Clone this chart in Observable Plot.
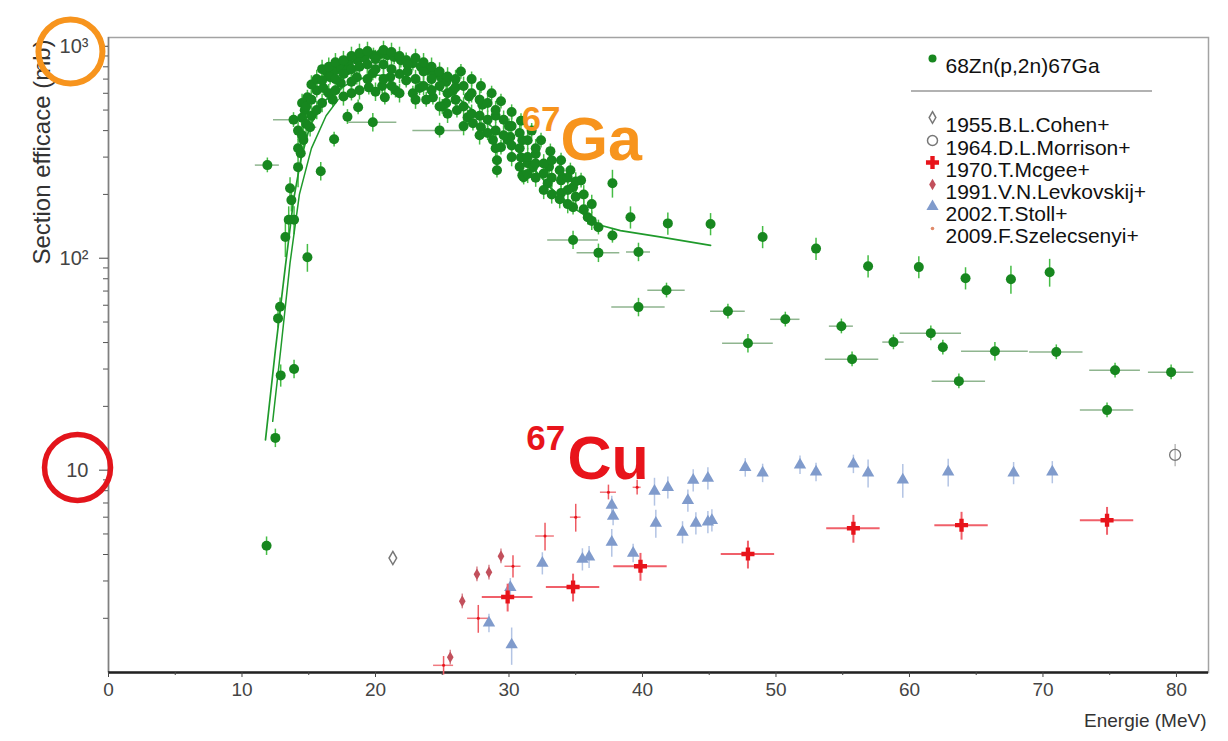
<!DOCTYPE html>
<html><head><meta charset="utf-8">
<script src="https://cdn.jsdelivr.net/npm/d3@7"></script>
<script src="https://cdn.jsdelivr.net/npm/@observablehq/plot@0.6"></script>
<style>
html,body{margin:0;padding:0;background:#fff;}
#chart svg{display:block;}
</style></head><body><div id="chart"></div>
<script>
// ---- axes ----
const xDomain = [0, 82.4];
const yDomain = [1.11, 1100];
const xTicks = [0, 10, 20, 30, 40, 50, 60, 70, 80];
const xMinor = [5, 15, 25, 35, 45, 55, 65, 75];
const yMajor = [10, 100, 1000];
const yMajorLabels = ["10", "10²", "10³"];
const yMinor = [2,3,4,5,6,7,8,9,20,30,40,50,60,70,80,90,200,300,400,500,600,700,800,900];

// ---- 68Zn(p,2n)67Ga : [E (MeV), sigma (mb), dE, relative dSigma] ----
const ga67 = [
  [11.84,4.4,0,0.1],[12.5,14.2,0,0.1],[12.9,28,0,0.12],[13.9,30,0,0.1],[12.7,52,0,0.1],[12.85,59,0,0.1],
  [14.9,101,0,0.15],[13.25,126,0,0.2],[13.5,152,0,0.15],[13.9,152,0,0.15],[13.7,188,0,0.12],[13.6,214,0,0.12],
  [11.9,275,0.9,0.08],[15.9,257,0,0.1],[13.86,450,1.5,0.08],[14.2,269,0,0.2],[14.4,313,0,0.15],[14.6,361,0,0.15],
  [15.1,415,0.5,0.1],[14.7,499,0,0.1],[16.9,364,0,0.08],[17.9,465,0,0.08],[18.7,516,0,0.08],[19.8,438,1.8,0.1],
  [20.7,574,0,0.08],[24.8,401,2,0.08],
  [15.6,619,0.3,0.08],[16.4,747,0.3,0.08],[17.0,770,0.3,0.08],[17.4,795,0.3,0.08],[18.0,830,0.3,0.08],
  [18.65,859,0.3,0.08],[19.2,880,0.3,0.08],[19.85,907,0.3,0.08],[20.4,920,0.3,0.08],[20.9,907,0.3,0.08],
  [21.4,890,0.3,0.08],[21.9,859,0.3,0.08],[22.3,860,0.3,0.08],[22.8,832,0.3,0.08],[23.4,800,0.3,0.08],
  [23.9,771,0.3,0.08],[24.4,740,0.3,0.08],[24.9,714,0.3,0.08],[25.3,680,0.3,0.08],[25.8,619,0.3,0.08],
  [14.9,574,0.3,0.08],[16.1,636,0.3,0.08],[16.6,714,0.3,0.08],[17.4,671,0.3,0.08],[17.9,771,0.3,0.08],
  [18.6,714,0.3,0.08],[19.8,747,0.3,0.08],[21.1,714,0.3,0.08],[22.3,690,0.3,0.08],[23.3,636,0.3,0.08],
  [24.3,574,0.3,0.08],[25.3,540,0.3,0.08],
  [16.8,560,0.3,0.08],[18.2,600,0.3,0.08],[19.5,640,0.3,0.08],[20.5,650,0.3,0.08],[21.5,620,0.3,0.08],
  [22.8,600,0.3,0.08],[23.8,560,0.3,0.08],[25.0,520,0.3,0.08],
  [26.4,760,0.3,0.08],[27.2,700,0.3,0.08],[27.9,650,0.3,0.08],[28.7,600,0.3,0.08],[29.4,550,0.3,0.08],
  [30.2,490,0.3,0.08],[30.9,445,0.3,0.08],[31.7,400,0.3,0.08],[32.4,360,0.3,0.08],[33.1,320,0.3,0.08],
  [33.9,290,0.3,0.08],[34.6,260,0.3,0.08],[35.4,233,0.3,0.08],
  [26.0,640,0.3,0.08],[27.0,580,0.3,0.08],[28.0,530,0.3,0.08],[29.0,470,0.3,0.08],[30.0,420,0.3,0.08],
  [31.0,360,0.3,0.08],[32.0,310,0.3,0.08],[33.0,270,0.3,0.08],[34.0,240,0.3,0.08],
  [26.1,499,0.3,0.08],[26.9,462,0.3,0.08],[27.3,433,0.3,0.08],[27.9,415,0.3,0.08],[28.4,390,0.3,0.08],
  [28.8,361,0.3,0.08],[29.4,334,0.3,0.08],[29.9,361,0.3,0.08],[30.1,373,0.3,0.08],[30.9,299,0.3,0.08],
  [31.4,281,0.3,0.08],[31.8,269,0.3,0.08],[32.6,251,0.3,0.08],[32.9,226,0.3,0.08],[33.9,233,0.3,0.08],
  [33.9,203,0.3,0.08],[34.8,216,0.3,0.08],[34.8,174,0.3,0.08],[35.9,156,0.3,0.08],[36.7,140,0.3,0.08],
  [37.75,128,0.3,0.08],[29.1,260,0.3,0.08],[31.1,241,0.3,0.08],[29.1,290,0.3,0.08],[31.0,246,0.3,0.08],
  [36.7,106,1.6,0.1],[34.8,122,1.9,0.1],[37.75,226,0,0.15],[39.1,156,0,0.12],[39.7,107,0.9,0.1],
  [41.9,146,0,0.12],[45.1,145,0,0.12],[49.0,126,0,0.12],[53.0,111,0,0.12],[41.8,70.6,1.4,0.08],
  [39.7,58.8,2.0,0.1],[46.4,56.2,1.3,0.08],[50.7,51.5,1.1,0.08],[47.9,39.7,1.9,0.1],[54.9,47.8,0.9,0.08],
  [55.7,33.4,2.0,0.08],[58.8,40.2,0.8,0.08],[61.6,44.3,2.3,0.08],[62.5,38.0,0,0.08],[63.7,26.3,2.0,0.08],
  [66.4,36.4,2.5,0.1],[71.0,36.1,2.0,0.08],[75.4,29.6,1.9,0.08],[79.6,29.0,1.7,0.08],[74.8,19.2,2.0,0.08],
  [56.9,91.6,0,0.12],[60.7,90.8,0,0.12],[64.2,80.5,0,0.12],[67.6,79.6,0,0.15],[70.5,85.9,0,0.15]
];
// dense core of the 67Ga excitation function (E, sigma, dE, relative dSigma)
const ga67core = [
  [14.2,330,0,0.1],[14.2,400,0,0.1],[14.5,380,0,0.1],[14.5,460,0,0.1],[14.5,540,0,0.1],[14.8,430,0,0.1],[14.8,520,0,0.1],
  [15.2,470,0,0.1],[15.2,560,0,0.1],[15.2,660,0,0.1],[15.6,500,0,0.1],[15.6,700,0,0.1],[16.0,540,0,0.1],[16.0,690,0,0.1],
  [16.0,780,0,0.1],[16.5,600,0,0.1],[16.5,800,0,0.1],[17.0,620,0,0.1],[17.0,700,0,0.1],[17.0,840,0,0.1],[17.6,580,0,0.1],
  [17.6,740,0,0.1],[17.6,860,0,0.1],[18.2,680,0,0.1],[18.2,780,0,0.1],[18.2,900,0,0.1],[18.8,620,0,0.1],[18.8,800,0,0.1],
  [18.8,930,0,0.1],[19.4,700,0,0.1],[19.4,820,0,0.1],[19.4,950,0,0.1],[20.0,610,0,0.1],[20.0,780,0,0.1],[20.0,870,0,0.1],
  [20.6,700,0,0.1],[20.6,820,0,0.1],[20.6,960,0,0.1],[21.2,650,0,0.1],[21.2,780,0,0.1],[21.2,940,0,0.1],[21.8,600,0,0.1],
  [21.8,740,0,0.1],[21.8,900,0,0.1],[22.4,760,0,0.1],[22.4,820,0,0.1],[23.0,560,0,0.1],[23.0,700,0,0.1],[23.0,880,0,0.1],
  [23.6,650,0,0.1],[23.6,760,0,0.1],[23.6,840,0,0.1],[24.2,620,0,0.1],[24.2,700,0,0.1],[24.2,800,0,0.1],[24.8,520,0,0.1],
  [24.8,650,0,0.1],[24.8,760,0,0.1],[25.4,480,0,0.1],[25.4,600,0,0.1],[25.4,720,0,0.1],[26.0,560,0,0.1],[26.0,700,0,0.1],
  [26.6,420,0,0.1],[26.6,520,0,0.1],[26.6,650,0,0.1],[27.2,480,0,0.1],[27.2,600,0,0.1],[27.8,380,0,0.1],[27.8,470,0,0.1],
  [27.8,560,0,0.1],[28.4,450,0,0.1],[28.4,540,0,0.1],[29.0,330,0,0.1],[29.0,400,0,0.1],[29.0,500,0,0.1],[29.6,380,0,0.1],
  [29.6,450,0,0.1],[30.2,300,0,0.1],[30.2,340,0,0.1],[30.2,420,0,0.1],[30.8,270,0,0.1],[30.8,330,0,0.1],[30.8,390,0,0.1],
  [31.4,250,0,0.1],[31.4,300,0,0.1],[31.4,360,0,0.1],[32.0,240,0,0.1],[32.0,280,0,0.1],[32.0,330,0,0.1],[32.6,210,0,0.1],
  [32.6,280,0,0.1],[33.2,200,0,0.1],[33.2,240,0,0.1],[33.2,290,0,0.1],[33.8,190,0,0.1],[33.8,260,0,0.1],[34.4,180,0,0.1],
  [34.4,210,0,0.1],[34.4,240,0,0.1],[35.0,195,0,0.1],[35.0,230,0,0.1],[35.6,170,0,0.1],[35.6,200,0,0.1],[36.2,150,0,0.1],
  [36.2,180,0,0.1]
];
// evaluated curves (E, sigma)
const fitMain = [[11.76,13.9],[12.5,36.8],[13.26,92.7],[13.86,188],[14.4,290],[15.1,424],[16.25,556],
  [17.75,655],[19.6,730],[21.9,730],[24.1,655],[26.4,556],[28.6,424],[30.9,310],[33.1,215],[35.0,170],
  [36.85,143],[38.35,135],[41.3,126],[45.1,115]];
const fitRise = [[12.3,17],[12.9,37],[13.6,95],[14.3,200],[15.2,330],[16.3,470],[17.2,560]];

// ---- 67Cu data sets : [E, sigma, dE, relative dSigma] ----
const mcgee = [[29.9,2.52,1.9,0.15],[34.8,2.81,2.0,0.15],[39.85,3.52,2.0,0.15],[47.9,4.02,2.0,0.15],
  [55.8,5.32,2.0,0.15],[63.9,5.5,2.0,0.15],[74.8,5.8,2.0,0.15]];
const szelecsenyi = [[25.1,1.2,0.75,0.1],[27.7,2.0,0.8,0.15],[30.3,3.52,0.6,0.12],[32.7,4.89,0.7,0.15],
  [35.0,6.0,0.4,0.15],[37.45,7.87,0.6,0.08],[39.6,8.3,0.3,0.08]];
const levkovskij = [[25.6,1.31,0,0.08],[26.5,2.41,0,0.08],[27.6,3.23,0,0.08],[28.5,3.3,0,0.08],[29.4,3.93,0,0.08]];
const stoll = [[28.5,1.90,0,0.1],[30.2,1.50,0,0.2],[30.1,2.8,0,0.1],[32.5,3.64,0,0.12],[35.5,3.8,0,0.12],
  [36.0,3.9,0,0.12],[37.7,4.57,0,0.15],[39.3,4.06,0,0.1],[37.8,6.07,0,0.1],[37.7,6.84,0,0.1],[41.0,5.62,0,0.15],
  [40.9,7.96,0,0.15],[41.9,8.3,0,0.12],[43.4,7.2,0,0.12],[43.0,5.1,0,0.12],[44.0,5.62,0,0.12],[44.9,5.7,0,0.12],
  [45.2,5.8,0,0.12],[43.8,8.97,0,0.12],[44.9,9.17,0,0.12],[47.7,10.3,0,0.1],[49.0,9.7,0,0.1],[51.8,10.6,0,0.1],
  [53.0,9.8,0,0.1],[55.8,10.7,0,0.1],[56.9,9.7,0,0.15],[59.5,9.0,0,0.18],[62.9,9.8,0,0.15],[67.8,9.7,0,0.12],
  [70.7,9.8,0,0.12]];
const cohen = [[21.3,3.85,0,0.05]];
const morrison = [[79.9,11.8,0,0.12]];

// ---- texts ----
const legendLabels = ["68Zn(p,2n)67Ga","1955.B.L.Cohen+","1964.D.L.Morrison+","1970.T.Mcgee+",
  "1991.V.N.Levkovskij+","2002.T.Stoll+","2009.F.Szelecsenyi+"];
const xLabel = "Energie (MeV)";
const yLabel = "Section efficace (mb)";
// annotations: [text, E, sigma, style]
const annotations = [["67",30.94,397,"ga"],["Ga",33.86,290,"ga"],["67",31.3,12.4,"cu"],["Cu",34.38,9.07,"cu"]];
// highlight rings around tick labels: [E, sigma]
const ringGa = [[-2.85,946]];
const ringCu = [[-2.32,10.3]];

// ---- build ----
const rows = a => a.map(([E,S,dE,eS]) => ({E,S,dE,eS}));
const GA = rows(ga67.concat(ga67core)), MC = rows(mcgee), SZ = rows(szelecsenyi), LV = rows(levkovskij),
      ST = rows(stoll), CO = rows(cohen), MO = rows(morrison);
const vbar = (data, stroke, w=1.5) => Plot.ruleX(data, {x:"E", y1:d=>d.S*(1-d.eS), y2:d=>d.S*(1+d.eS), stroke, strokeWidth:w});
const hbar = (data, stroke, w=1.5) => Plot.ruleY(data.filter(d=>d.dE>0), {y:"S", x1:d=>d.E-d.dE, x2:d=>d.E+d.dE, stroke, strokeWidth:w});

const GREEN = "#17871f", GREEN_BAR = "#45bd45", GREEN_H = "#8fb58f";
const RED = "#e8141b", ORANGE = "#f7941d", STOLL = "#809bcc", LEV = "#c2505c", GREY = "#777";

const legendStyle = [
  {symbol:"circle", r:4, fill:GREEN, stroke:"none"},
  {symbol:"diamond", r:3.5, fill:"white", stroke:GREY},
  {symbol:"circle", r:5, fill:"white", stroke:GREY},
  {symbol:"cross", r:5.5, fill:RED, stroke:"none"},
  {symbol:"diamond", r:3.5, fill:LEV, stroke:"none"},
  {symbol:"triangle", r:4.5, fill:STOLL, stroke:"none"},
  {symbol:"circle", r:1.8, fill:"#e08a6a", stroke:"none"}
];
const legendDy = [21, 80, 103, 125, 147, 169, 191];
const legendMarks = legendLabels.flatMap((lab, i) => [
  Plot.dot([lab], {frameAnchor:"top-left", dx:824, dy:legendDy[i], ...legendStyle[i]}),
  Plot.text([lab], {frameAnchor:"top-left", dx:837, dy:legendDy[i], textAnchor:"start", fontSize:21, fill:"#111"})
]);
const separator = (index, scales, values, dims) => {
  const l = document.createElementNS("http://www.w3.org/2000/svg", "line");
  l.setAttribute("x1", dims.marginLeft + 803); l.setAttribute("x2", dims.marginLeft + 1044);
  l.setAttribute("y1", dims.marginTop + 54); l.setAttribute("y2", dims.marginTop + 54);
  l.setAttribute("stroke", "#999"); l.setAttribute("stroke-width", "1.5");
  return l;
};
const annoStyle = {ga: {fill: ORANGE}, cu: {fill: RED}};
const annoMarks = annotations.map(([t,E,S,k]) => Plot.text([t], {x:()=>E, y:()=>S, textAnchor:"start", lineAnchor:"bottom",
  fontWeight:"bold", fontSize: /\d/.test(t) ? 35 : 61, ...annoStyle[k]}));

const chart = Plot.plot({
  width: 1228, height: 741,
  marginLeft: 108, marginRight: 20, marginTop: 37, marginBottom: 69,
  style: {fontFamily: "'Liberation Sans', Arial, sans-serif", background: "white", color: "#333"},
  x: {domain: xDomain, label: null},
  y: {type: "log", domain: yDomain, label: null},
  marks: [
    Plot.frame({stroke: "#a3a3a3", strokeWidth: 1.5}),
    Plot.ruleX([xDomain[0]], {stroke: "#808080", strokeWidth: 1.5}),
    Plot.ruleY([yDomain[0]], {stroke: "#222", strokeWidth: 2.5}),
    Plot.axisX(xTicks, {tickSize: 5, tickPadding: 5, fontSize: 19, color: "#444", label: null}),
    Plot.axisX(xMinor, {tickSize: 3, fill: "none", stroke: "#444", label: null}),
    Plot.axisY(yMajor, {tickSize: 9, tickPadding: 11, fontSize: 20, color: "#444", label: null,
      tickFormat: d => yMajorLabels[yMajor.indexOf(d)]}),
    Plot.axisY(yMinor, {tickSize: 5, fill: "none", stroke: "#555", label: null}),
    Plot.text([yLabel], {frameAnchor: "top-left", dx: -76, dy: 2, rotate: -90, textAnchor: "end", fontSize: 24, fill: "#333"}),
    Plot.text([xLabel], {frameAnchor: "bottom-right", dx: -2, dy: 54, textAnchor: "end", lineAnchor: "bottom", fontSize: 19, fill: "#333"}),
    // Ga errors
    hbar(GA, GREEN_H), vbar(GA, GREEN_BAR),
    Plot.line(fitMain, {x: d=>d[0], y: d=>d[1], stroke: "#1f9a2b", strokeWidth: 1.7}),
    Plot.line(fitRise, {x: d=>d[0], y: d=>d[1], stroke: "#1f9a2b", strokeWidth: 1.5}),
    Plot.dot(GA, {x: "E", y: "S", r: 5, fill: GREEN}),
    // Cu
    hbar(SZ, "#f07a80", 1.5), vbar(SZ, "#ee5a62", 1.5),
    Plot.dot(SZ, {x: "E", y: "S", r: 1.5, fill: RED}),
    vbar(LV, "#d98890", 1.5),
    Plot.dot(LV, {x: "E", y: "S", symbol: "diamond", r: 3.5, fill: LEV}),
    vbar(ST, "#b3c4e4", 1.5),
    Plot.dot(ST, {x: "E", y: "S", symbol: "triangle", r: 4.6, fill: STOLL}),
    hbar(MC, "#f0606a", 2), vbar(MC, "#f0606a", 2),
    Plot.dot(MC, {x: "E", y: "S", symbol: "cross", r: 5.5, fill: RED}),
    vbar(CO, GREY, 1),
    Plot.dot(CO, {x: "E", y: "S", symbol: "diamond", r: 4, fill: "white", stroke: GREY}),
    vbar(MO, "#aaa", 1.2),
    Plot.dot(MO, {x: "E", y: "S", r: 5.5, fill: "none", stroke: GREY, strokeWidth: 1.3}),
    // annotations
    ...annoMarks,
    Plot.dot(ringGa, {x: d=>d[0], y: d=>d[1], r: 32, fill: "none", stroke: ORANGE, strokeWidth: 6}),
    Plot.dot(ringCu, {x: d=>d[0], y: d=>d[1], r: 33, fill: "none", stroke: "#e3141b", strokeWidth: 5.5}),
    // legend
    ...legendMarks,
    separator
  ]
});
document.getElementById("chart").appendChild(chart);
</script></body></html>
